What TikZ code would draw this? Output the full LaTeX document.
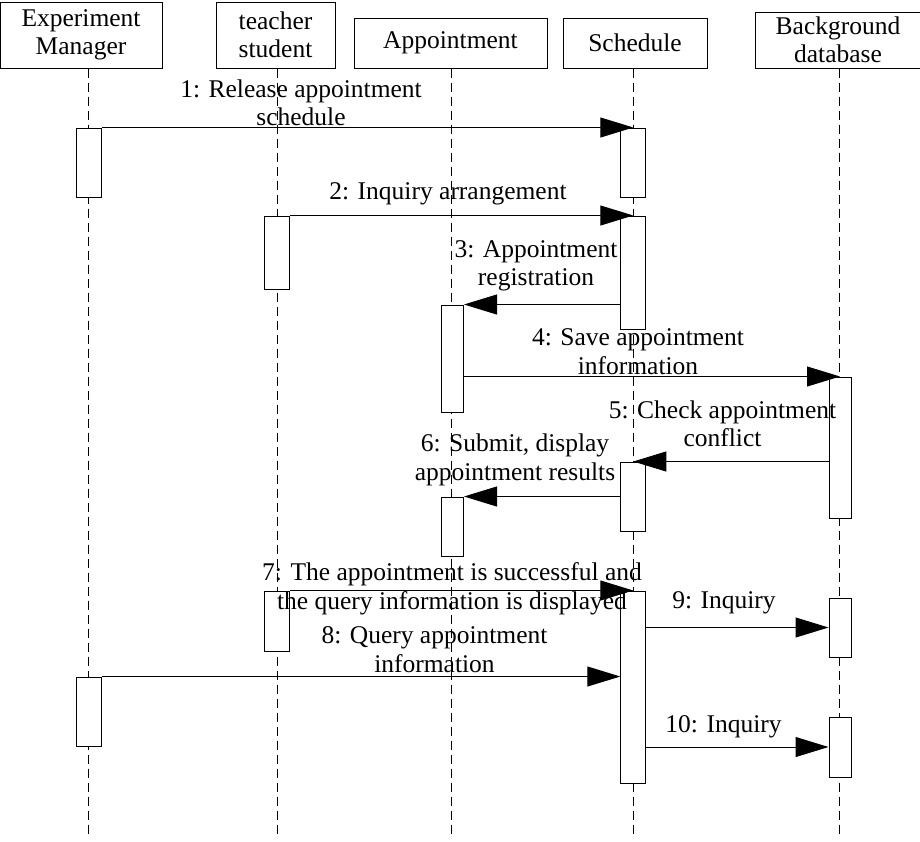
\documentclass[tikz,border=0pt]{standalone}
\usepackage{fontspec}
\setmainfont{Liberation Serif}
\usetikzlibrary{arrows.meta}

\tikzset{
  object/.style={draw, rectangle, inner sep=0pt, align=center},
  activation/.style={draw, fill=white, rectangle, inner sep=0pt, minimum width=25pt},
  lifeline/.style={dash pattern=on 9pt off 5pt, line width=0.8pt},
  message/.style={-{Triangle[length=33pt,width=20pt]}},
  msglabel/.style={align=center, inner sep=0pt}
}

\begin{document}
\begin{tikzpicture}[x=1pt, y=-1pt, line width=1pt, font=\fontsize{25.5}{28.5}\selectfont]
  \useasboundingbox (0,0) rectangle (920,841);

  % Objects
  \node[object, minimum width=162pt, minimum height=66pt] (em) at (81,35) {Experiment\\Manager};
  \node[object, minimum width=119pt, minimum height=66pt] (ts) at (275.5,35) {teacher\\student};
  \node[object, minimum width=193pt, minimum height=50pt] (ap) at (450.5,43) {Appointment};
  \node[object, minimum width=144pt, minimum height=50pt] (sc) at (635,43) {Schedule};
  \node[object, minimum width=166pt, minimum height=56pt] (bd) at (838,40) {Background\\database};

  % Lifelines
  \coordinate (emEnd) at (88.7,838);
  \coordinate (tsEnd) at (277.3,838);
  \coordinate (apEnd) at (451,838);
  \coordinate (scEnd) at (633.3,838);
  \coordinate (bdEnd) at (839,838);
  \draw[lifeline] (em.south -| emEnd) -- (emEnd);
  \draw[lifeline] (ts.south -| tsEnd) -- (tsEnd);
  \draw[lifeline] (ap.south -| apEnd) -- (apEnd);
  \draw[lifeline] (sc.south -| scEnd) -- (scEnd);
  \draw[lifeline] (bd.south -| bdEnd) -- (bdEnd);

  % Activations
  \node[activation, minimum height=69pt] (emA) at (88.7,162.5) {};
  \node[activation, minimum height=69pt] (emB) at (88.7,711.5) {};
  \node[activation, minimum height=73pt] (tsA) at (277.3,252.5) {};
  \node[activation, minimum height=60pt] (tsB) at (277.3,621) {};
  \node[activation, minimum width=22pt, minimum height=107pt] (apA) at (452.5,358.5) {};
  \node[activation, minimum width=22pt, minimum height=59pt] (apB) at (452.5,526.5) {};
  \node[activation, minimum height=69pt] (scA) at (633.3,162.5) {};
  \node[activation, minimum height=113pt] (scB) at (633.3,272.5) {};
  \node[activation, minimum height=69pt] (scC) at (633.3,496.5) {};
  \node[activation, minimum height=192pt] (scD) at (633.3,687) {};
  \node[activation, minimum width=22pt, minimum height=141pt] (bdA) at (840,447.5) {};
  \node[activation, minimum width=22pt, minimum height=59pt] (bdB) at (840,627.5) {};
  \node[activation, minimum width=22pt, minimum height=60pt] (bdC) at (840,747) {};

  % Messages
  \draw[message] (emA.north east) -- (scA.north);
  \node[msglabel] (m1) at (301,103) {1: Release appointment\\schedule};

  \draw[message] (tsA.north east) -- (scB.north);
  \node[msglabel] (m2) at (448,194) {2: Inquiry arrangement};

  \draw[message] (scB.west |- apA.north) -- (apA.north east);
  \node[msglabel] (m3) at (536,266) {3: Appointment\\registration};

  \draw[message] (apA.east |- bdA.north) -- (bdA.north);
  \node[msglabel] (m4) at (638,351.5) {4: Save appointment\\information};

  \draw[message] (bdA.west |- scC.north) -- (scC.north);
  \node[msglabel] (m5) at (722.5,424) {5: Check appointment\\conflict};

  \draw[message] (scC.west |- apB.north) -- (apB.north east);
  \node[msglabel] (m6) at (515,460) {6: Submit, display\\appointment results};

  \draw[message] (tsB.north east) -- (scD.north);
  \node[msglabel] (m7) at (452,589) {7: The appointment is successful and\\the query information is displayed};

  \draw[message] (emB.north east) -- (scD.west |- emB.north);
  \node[msglabel] (m8) at (434.5,649.5) {8: Query appointment\\information};

  \draw[message] (scD.east |- bdB.west) -- (bdB.west);
  \node[msglabel] (m9) at (724,603) {9: Inquiry};

  \draw[message] (scD.east |- bdC.west) -- (bdC.west);
  \node[msglabel] (m10) at (723.5,727) {10: Inquiry};
\end{tikzpicture}
\end{document}
